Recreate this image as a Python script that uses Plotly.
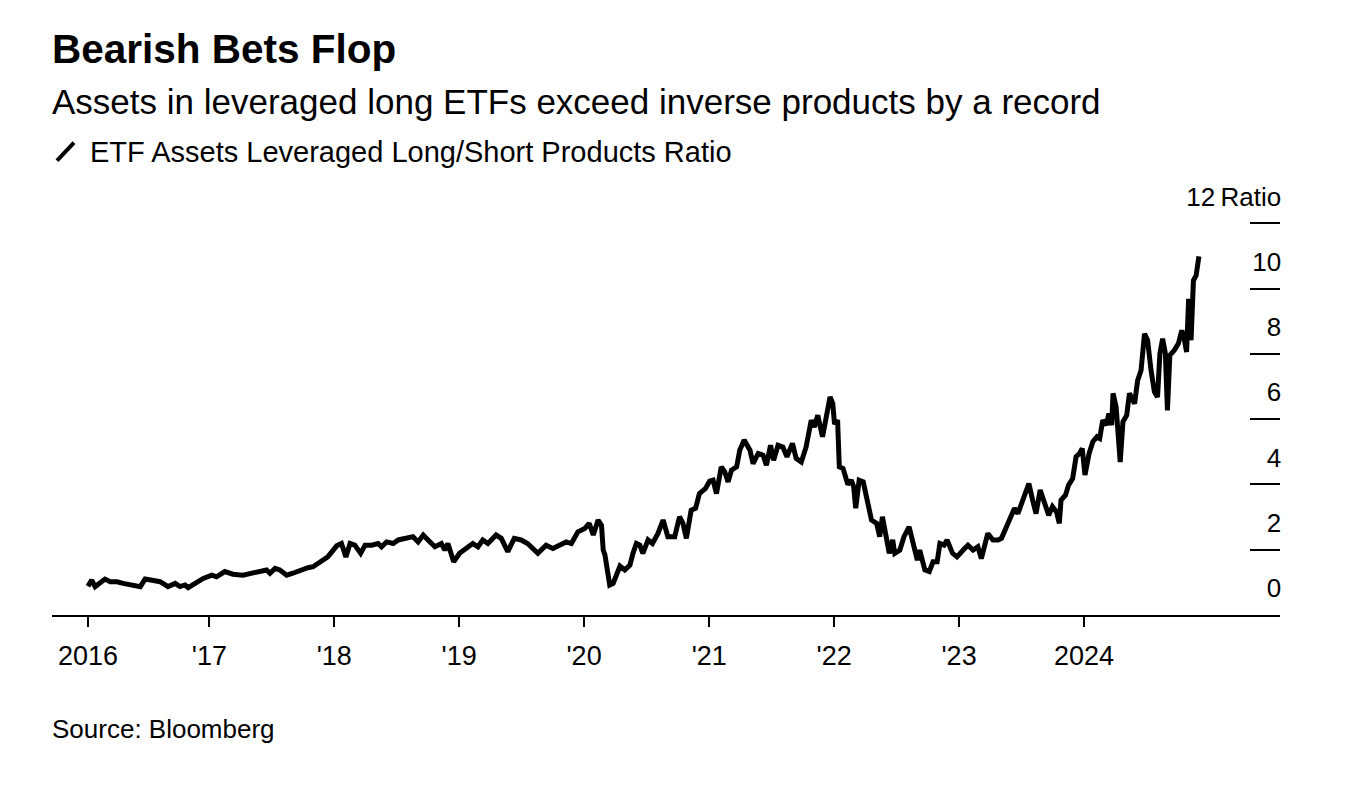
import plotly.graph_objects as go

dates = [
    "2016-01-12", "2016-01-23", "2016-02-02", "2016-03-02", "2016-03-17", "2016-04-06", "2016-04-24",
    "2016-05-23", "2016-06-13", "2016-06-27", "2016-07-17", "2016-08-10", "2016-09-02", "2016-09-23",
    "2016-10-07", "2016-10-22", "2016-10-31", "2016-11-20", "2016-12-14", "2017-01-08", "2017-01-22",
    "2017-02-15", "2017-03-11", "2017-04-09", "2017-05-08", "2017-06-02", "2017-06-17", "2017-06-27",
    "2017-07-12", "2017-07-26", "2017-08-15", "2017-09-02", "2017-09-23", "2017-10-16", "2017-10-31",
    "2017-11-20", "2017-12-13", "2018-01-08", "2018-01-22", "2018-02-04", "2018-02-16", "2018-03-02",
    "2018-03-19", "2018-04-01", "2018-04-20", "2018-05-09", "2018-05-19", "2018-06-03", "2018-06-22",
    "2018-07-07", "2018-07-31", "2018-08-19", "2018-09-03", "2018-09-18", "2018-10-02", "2018-10-22",
    "2018-11-10", "2018-11-20", "2018-11-29", "2018-12-16", "2019-01-02", "2019-01-22", "2019-02-10",
    "2019-02-25", "2019-03-11", "2019-03-26", "2019-04-19", "2019-05-04", "2019-05-23", "2019-06-11",
    "2019-07-01", "2019-07-20", "2019-08-04", "2019-08-19", "2019-09-12", "2019-10-02", "2019-10-21",
    "2019-11-10", "2019-11-25", "2019-12-14", "2020-01-03", "2020-01-16", "2020-01-28", "2020-02-11",
    "2020-02-21", "2020-02-26", "2020-03-02", "2020-03-11", "2020-03-16", "2020-03-26", "2020-04-03",
    "2020-04-15", "2020-04-29", "2020-05-14", "2020-05-23", "2020-06-02", "2020-06-12", "2020-06-21",
    "2020-07-06", "2020-07-19", "2020-08-04", "2020-08-19", "2020-09-02", "2020-09-22", "2020-10-06",
    "2020-10-16", "2020-10-26", "2020-11-09", "2020-11-22", "2020-12-03", "2020-12-21", "2021-01-02",
    "2021-01-12", "2021-01-22", "2021-02-05", "2021-02-15", "2021-02-25", "2021-03-07", "2021-03-22",
    "2021-03-31", "2021-04-13", "2021-04-30", "2021-05-09", "2021-05-24", "2021-06-07", "2021-06-17",
    "2021-06-29", "2021-07-08", "2021-07-21", "2021-08-04", "2021-08-16", "2021-09-01", "2021-09-12",
    "2021-09-27", "2021-10-11", "2021-10-26", "2021-11-04", "2021-11-14", "2021-11-28", "2021-12-08",
    "2021-12-20", "2021-12-28", "2022-01-02", "2022-01-11", "2022-01-16", "2022-01-27", "2022-02-10",
    "2022-02-20", "2022-02-27", "2022-03-05", "2022-03-15", "2022-03-27", "2022-04-10", "2022-04-20",
    "2022-05-05", "2022-05-14", "2022-05-22", "2022-06-03", "2022-06-11", "2022-06-21", "2022-06-27",
    "2022-07-12", "2022-07-24", "2022-08-08", "2022-08-20", "2022-09-01", "2022-09-08", "2022-09-23",
    "2022-10-06", "2022-10-17", "2022-10-29", "2022-11-06", "2022-11-18", "2022-11-27", "2022-12-13",
    "2022-12-26", "2023-01-13", "2023-01-27", "2023-02-11", "2023-02-25", "2023-03-07", "2023-03-17",
    "2023-03-26", "2023-04-10", "2023-04-25", "2023-05-05", "2023-05-19", "2023-05-29", "2023-06-12",
    "2023-06-22", "2023-07-02", "2023-07-11", "2023-07-24", "2023-08-04", "2023-08-14", "2023-08-26",
    "2023-09-07", "2023-09-20", "2023-10-01", "2023-10-13", "2023-10-21", "2023-10-26", "2023-11-08",
    "2023-11-17", "2023-11-29", "2023-12-09", "2023-12-19", "2023-12-27", "2024-01-04", "2024-01-16",
    "2024-01-27", "2024-02-08", "2024-02-16", "2024-02-25", "2024-03-06", "2024-03-14", "2024-03-22",
    "2024-03-26", "2024-04-04", "2024-04-16", "2024-04-24", "2024-05-05", "2024-05-13", "2024-05-28",
    "2024-06-06", "2024-06-16", "2024-06-26", "2024-07-05", "2024-07-15", "2024-07-25", "2024-08-03",
    "2024-08-10", "2024-08-18", "2024-08-26", "2024-09-01", "2024-09-08", "2024-09-21", "2024-10-03",
    "2024-10-13", "2024-10-20", "2024-10-27", "2024-11-02", "2024-11-09", "2024-11-16", "2024-11-24",
    "2024-12-02",
]

ratio = [
    0.88, 1.07, 0.87, 1.10, 1.02, 1.02, 0.97,
    0.92, 0.87, 1.10, 1.07, 1.02, 0.87, 0.97,
    0.87, 0.92, 0.84, 0.97, 1.12, 1.22, 1.17,
    1.33, 1.25, 1.22, 1.28, 1.33, 1.38, 1.28,
    1.43, 1.38, 1.22, 1.28, 1.38, 1.45, 1.48,
    1.63, 1.78, 2.12, 2.19, 1.78, 2.19, 2.14,
    1.89, 2.14, 2.14, 2.19, 2.09, 2.24, 2.19,
    2.30, 2.35, 2.40, 2.24, 2.45, 2.30, 2.09,
    2.19, 1.99, 2.19, 1.63, 1.89, 2.04, 2.19,
    2.09, 2.30, 2.19, 2.45, 2.35, 1.94, 2.35,
    2.30, 2.19, 2.04, 1.89, 2.14, 2.04, 2.14,
    2.24, 2.19, 2.55, 2.65, 2.81, 2.45, 2.91,
    2.75, 1.99, 1.84, 1.28, 0.92, 0.97, 1.17,
    1.50, 1.38, 1.53, 1.89, 2.19, 2.14, 1.89,
    2.30, 2.19, 2.50, 2.91, 2.40, 2.40, 3.01,
    2.81, 2.35, 3.21, 3.27, 3.72, 3.88, 4.10,
    4.13, 3.72, 4.54, 4.39, 4.08, 4.44, 4.54,
    5.05, 5.36, 5.05, 4.64, 4.95, 4.90, 4.59,
    5.20, 4.74, 5.20, 5.15, 4.85, 5.26, 4.80,
    4.69, 5.15, 5.97, 5.76, 6.12, 5.46, 6.12,
    6.68, 6.48, 5.85, 5.97, 4.54, 4.49, 4.00,
    4.13, 3.93, 3.27, 4.13, 4.08, 3.42, 2.91,
    2.81, 2.40, 3.01, 2.30, 1.89, 2.30, 1.89,
    1.99, 2.40, 2.70, 2.19, 1.68, 1.99, 1.38,
    1.33, 1.63, 1.63, 2.19, 2.14, 2.30, 1.89,
    1.78, 1.99, 2.14, 1.99, 2.09, 1.73, 2.19,
    2.50, 2.30, 2.30, 2.35, 2.70, 2.96, 3.27,
    3.11, 3.42, 3.72, 4.03, 3.52, 3.11, 3.83,
    3.42, 3.06, 3.32, 3.16, 2.81, 3.52, 3.67,
    3.98, 4.18, 4.85, 4.95, 5.10, 4.29, 4.95,
    5.31, 5.46, 5.41, 5.97, 5.82, 6.17, 5.82,
    6.79, 6.38, 4.69, 5.92, 6.12, 6.79, 6.48,
    7.19, 7.50, 8.62, 8.42, 7.50, 6.84, 6.68,
    8.01, 8.47, 8.01, 6.27, 7.96, 8.11, 8.32,
    8.72, 8.47, 8.06, 9.69, 8.42, 10.25, 10.41,
    10.99,
]

x_tick_vals = ["2016-01-12", "2017-01-01", "2018-01-01", "2019-01-01", "2020-01-01",
               "2021-01-01", "2022-01-01", "2023-01-01", "2024-01-01"]
x_tick_text = ["2016", "'17", "'18", "'19", "'20", "'21", "'22", "'23", "2024"]
y_tick_vals = [0, 2, 4, 6, 8, 10, 12]
y_tick_text = ["0", "2", "4", "6", "8", "10", "12\u2009Ratio"]

title = "Bearish Bets Flop"
subtitle = "Assets in leveraged long ETFs exceed inverse products by a record"
legend_label = "ETF Assets Leveraged Long/Short Products Ratio"
source = "Source: Bloomberg"

FONT = "Liberation Sans"

W, H = 1366, 790
Y_TOP = 13.3
PX_PER_UNIT = 392 / 12
L, R, B = 52, 86, 175
T = round(H - B - Y_TOP * PX_PER_UNIT, 1)
pw, ph = W - L - R, H - T - B


def px_x(px):
    return (px - L) / pw


def px_y(py):
    return (H - B - py) / ph


fig = go.Figure()
fig.add_trace(go.Scatter(
    x=dates, y=ratio, mode="lines",
    line=dict(color="#000000", width=5),
    name=legend_label, showlegend=False, hoverinfo="skip",
))

fig.update_layout(
    width=W, height=H,
    margin=dict(l=L, r=R, t=T, b=B, pad=0),
    paper_bgcolor="white", plot_bgcolor="white",
    font=dict(family=FONT, color="#000000"),
    showlegend=False,
    xaxis=dict(
        range=["2015-09-29", "2025-07-27"],
        tickvals=x_tick_vals, ticktext=x_tick_text,
        showgrid=False, zeroline=False,
        showline=True, linecolor="#000000", linewidth=2,
        ticks="outside", ticklen=10, tickwidth=1.5, tickcolor="#000000",
        tickfont=dict(size=27, family=FONT, color="#000000"),
        ticklabelstandoff=6,
    ),
    yaxis=dict(
        range=[0, Y_TOP], side="right",
        tickvals=y_tick_vals, ticktext=y_tick_text,
        showgrid=False, zeroline=False, showline=False,
        ticks="inside", ticklen=30, tickwidth=2, tickcolor="#000000",
        ticklabelposition="inside",
        ticklabelstandoff=-29,
        ticklabelshift=-27,
        tickfont=dict(size=26, family=FONT, color="#000000"),
    ),
)

annotations = [
    dict(text="<b>" + title + "</b>", x=px_x(50), y=px_y(48), font=dict(size=40.5)),
    dict(text=subtitle, x=px_x(50), y=px_y(101), font=dict(size=35)),
    dict(text=legend_label, x=px_x(88), y=px_y(151), font=dict(size=29)),
    dict(text=source, x=px_x(50), y=px_y(729), font=dict(size=26)),
]
for a in annotations:
    a.update(xref="paper", yref="paper", xanchor="left", yanchor="middle",
             showarrow=False)
    a["font"].update(family=FONT, color="#000000")
fig.update_layout(annotations=annotations)

fig.add_shape(type="line", xref="paper", yref="paper",
              x0=px_x(57), y0=px_y(160), x1=px_x(74), y1=px_y(142),
              line=dict(color="#000000", width=4))

fig.write_html("out.html", config={"displayModeBar": False},
               post_script="document.body.style.margin='0';document.body.style.padding='0';")
